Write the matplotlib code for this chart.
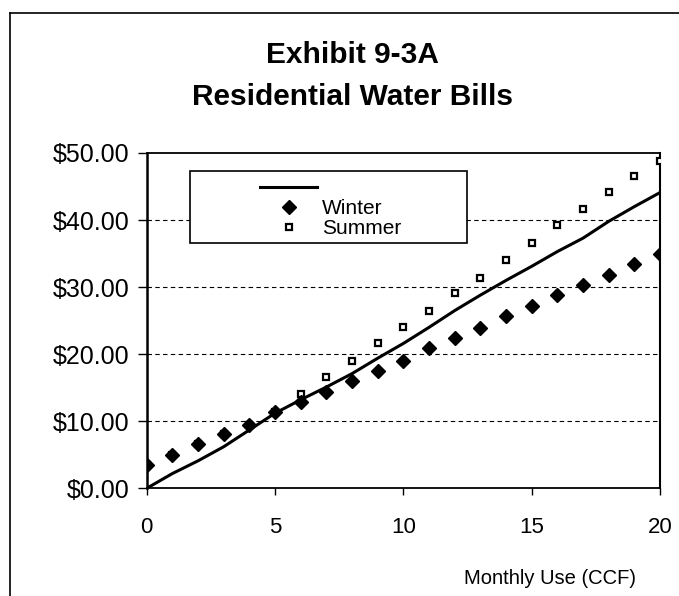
import matplotlib
matplotlib.use('Agg')
from matplotlib import pyplot as plt
from matplotlib.lines import Line2D
from matplotlib.patches import Rectangle
from matplotlib.ticker import StrMethodFormatter
import numpy as np

plt.rcParams['font.family'] = ['Liberation Sans', 'DejaVu Sans']

usage_ccf = np.arange(0, 21)

winter_bill = [3.5, 4.9, 6.6, 8.1, 9.5, 11.4, 12.8, 14.3, 16.0, 17.5, 19.0,
               20.9, 22.4, 23.9, 25.7, 27.2, 28.8, 30.3, 31.8, 33.5, 35.0]
summer_bill = [3.5, 4.9, 6.6, 8.1, 9.5, 11.4, 14.0, 16.6, 19.0, 21.6, 24.1,
               26.4, 29.1, 31.4, 34.1, 36.6, 39.2, 41.6, 44.2, 46.6, 48.8]
annual_bill = [0.0, 2.2, 4.1, 6.2, 8.7, 11.2, 13.2, 15.1, 17.1, 19.4, 21.6,
               24.0, 26.5, 28.8, 31.0, 33.1, 35.3, 37.3, 39.8, 42.0, 44.1]

y_ticks = [0, 10, 20, 30, 40, 50]
x_ticks = [0, 5, 10, 15, 20]

fig = plt.figure(figsize=(6.79, 5.96), dpi=100)
ax = fig.add_axes([0.2161, 0.1807, 0.7559, 0.5626])

line_h, = ax.plot(usage_ccf, annual_bill, 'k-', lw=2.2, zorder=3)
winter_h, = ax.plot(usage_ccf, winter_bill, 'kD', ms=6.8, ls='none', zorder=4)
summer_h, = ax.plot(usage_ccf, summer_bill, 's', ms=5, mfc='white', mec='black',
                    mew=1.6, ls='none', zorder=3.5)

ax.set_xlim(0, 20)
ax.set_ylim(0, 50)
ax.set_xticks(x_ticks)
ax.set_yticks(y_ticks)
ax.yaxis.set_major_formatter(StrMethodFormatter('${x:.2f}'))
ax.tick_params(axis='y', direction='out', length=6.5, width=1, labelsize=18, pad=6)
ax.tick_params(axis='x', direction='out', length=5, width=1, labelsize=16, pad=16)

for v in y_ticks[1:-1]:
    ax.axhline(v, color='black', lw=0.8, ls=(0, (4, 3)), zorder=1)

ax.spines['left'].set_linewidth(1.8)
ax.spines['bottom'].set_linewidth(1.3)
ax.spines['top'].set_linewidth(1.3)
ax.spines['right'].set_linewidth(1.5)

# legend box and entries
ax.add_patch(Rectangle((0.0844, 0.7316), 0.5396, 0.2146, transform=ax.transAxes,
                       fc='white', ec='black', lw=1.2, zorder=5))
ax.legend([line_h, winter_h, summer_h], [' ', 'Winter', 'Summer'],
          loc='upper left', bbox_to_anchor=(0.2207, 0.922), frameon=False,
          borderpad=0, borderaxespad=0, fontsize=15, handlelength=2.74,
          handletextpad=0.25, labelspacing=0.05).set_zorder(6)

fig.text(352 / 679, 1 - 55 / 596, 'Exhibit 9-3A', ha='center', va='center',
         fontsize=21.5, fontweight='bold')
fig.text(352 / 679, 1 - 97 / 596, 'Residential Water Bills', ha='center', va='center',
         fontsize=21.5, fontweight='bold')
fig.text(550 / 679, 1 - 578 / 596, 'Monthly Use (CCF)', ha='center', va='center',
         fontsize=14.5)

# outer frame
fig.add_artist(Line2D([0.0147, 0.0147], [0.0, 0.978], color='black', lw=1.2))
fig.add_artist(Line2D([0.0147, 1.0], [0.978, 0.978], color='black', lw=1.2))

fig.savefig('out.png', dpi=100)
